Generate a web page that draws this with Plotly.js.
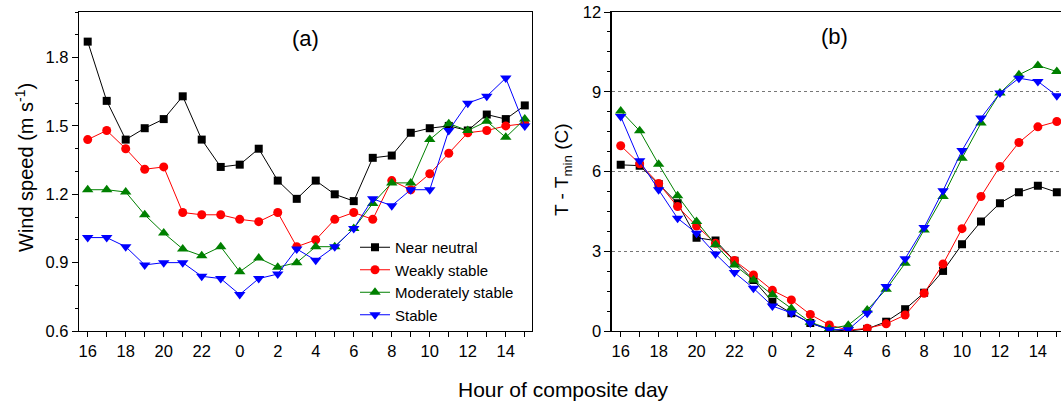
<!DOCTYPE html>
<html>
<head>
<meta charset="utf-8">
<script src="https://cdn.plot.ly/plotly-3.0.1.min.js"></script>
<style>html,body{margin:0;padding:0;background:#fff;}#chart{width:1061px;height:402px;}</style>
</head>
<body>
<div id="chart"></div>
<script>
// Hours of composite day (x categories)
const hours = [16,17,18,19,20,21,22,23,0,1,2,3,4,5,6,7,8,9,10,11,12,13,14,15];
const seriesNames = ["Near neutral","Weakly stable","Moderately stable","Stable"];

// Panel (a): wind speed (m s^-1)
const windNearNeutral = [1.87,1.61,1.44,1.49,1.53,1.63,1.44,1.32,1.33,1.40,1.26,1.18,1.26,1.20,1.17,1.36,1.37,1.47,1.49,1.50,1.48,1.55,1.53,1.59];
const windWeakly      = [1.44,1.48,1.40,1.31,1.32,1.12,1.11,1.11,1.09,1.08,1.12,0.97,1.00,1.09,1.12,1.09,1.26,1.22,1.29,1.38,1.47,1.48,1.50,1.51];
const windModerately  = [1.22,1.22,1.21,1.11,1.03,0.96,0.93,0.97,0.86,0.92,0.88,0.90,0.97,0.97,1.05,1.16,1.25,1.25,1.44,1.51,1.48,1.52,1.45,1.53];
const windStable      = [1.01,1.01,0.97,0.89,0.90,0.90,0.84,0.83,0.76,0.83,0.85,0.96,0.91,0.97,1.05,1.18,1.15,1.22,1.22,1.48,1.60,1.63,1.71,1.50];

// Panel (b): T - Tmin (C)
const tNearNeutral = [6.25,6.22,5.53,4.81,3.51,3.40,2.64,1.92,1.10,0.67,0.30,0.05,0.00,0.08,0.35,0.82,1.44,2.26,3.26,4.12,4.81,5.22,5.46,5.22];
const tWeakly      = [6.97,6.29,5.55,4.68,3.95,3.30,2.65,2.11,1.53,1.17,0.62,0.23,0.03,0.10,0.27,0.60,1.42,2.52,3.85,5.06,6.19,7.09,7.68,7.88];
const tModerately  = [8.28,7.53,6.27,5.09,4.12,3.24,2.48,1.92,1.36,0.85,0.33,0.08,0.22,0.79,1.57,2.55,3.80,5.06,6.50,7.82,8.95,9.64,9.99,9.76];
const tStable      = [8.07,6.40,5.31,4.24,3.68,2.90,2.20,1.61,0.94,0.68,0.30,0.05,0.05,0.67,1.67,2.72,3.89,5.28,6.79,8.01,8.95,9.51,9.39,8.85];

const idx = hours.map((h,i)=>i);
const tickText = hours.map((h,i)=> i%2===0 ? String(h) : "");

const colors = ["#000000","#ff0000","#008000","#0000ff"];
const symbols = ["square","circle","triangle-up","triangle-down"];
const sizes = [8,9,10,10];

const windData = [windNearNeutral, windWeakly, windModerately, windStable];
const tData = [tNearNeutral, tWeakly, tModerately, tStable];

const traces = [];
windData.forEach((ys,k)=>{
  traces.push({x: idx, y: ys, xaxis:'x', yaxis:'y', type:'scatter', mode:'lines+markers',
    name: seriesNames[k], line:{color:colors[k], width:1},
    marker:{symbol:symbols[k], size:sizes[k], color:colors[k]}, showlegend:true});
});
tData.forEach((ys,k)=>{
  traces.push({x: idx, y: ys, xaxis:'x2', yaxis:'y2', type:'scatter', mode:'lines+markers',
    name: seriesNames[k], line:{color:colors[k], width:1},
    marker:{symbol:symbols[k], size:sizes[k], color:colors[k]}, showlegend:false});
});

const FONT = "Arial, 'Liberation Sans', sans-serif";
const W = 1061, H = 402;
const px = v => v/W, py = v => 1 - v/H;
const TICKSIZE = 16.5;

const xCommon = {
  tickmode:'array', tickvals: idx, ticktext: tickText,
  ticks:'outside', ticklen:5, tickwidth:1, tickcolor:'#000',
  showline:true, linecolor:'#000', linewidth:1.3, mirror:true,
  showgrid:false, zeroline:false, tickfont:{size:TICKSIZE, color:'#000', family:FONT}
};

const layout = {
  width: W, height: H,
  margin:{l:0,r:0,t:0,b:0},
  paper_bgcolor:'#fff', plot_bgcolor:'#fff',
  font:{family:FONT, color:'#000'},
  showlegend:true,
  xaxis: Object.assign({}, xCommon, {domain:[px(79), px(532)], range:[-0.458, 23.38], anchor:'y'}),
  yaxis: {domain:[py(331), py(12)], range:[0.6, 2.0], anchor:'x',
    tickmode:'linear', tick0:0.6, dtick:0.3, tickformat:'.1f',
    ticks:'outside', ticklen:6, tickwidth:1, tickcolor:'#000',
    minor:{tick0:0.6, dtick:0.1, ticks:'outside', ticklen:3, tickcolor:'#000', showgrid:false},
    showline:true, linecolor:'#000', linewidth:1.3, mirror:true,
    showgrid:false, zeroline:false, tickfont:{size:TICKSIZE, color:'#000', family:FONT}},
  xaxis2: Object.assign({}, xCommon, {domain:[px(611.7), 1], range:[-0.475, 23.22], anchor:'y2'}),
  yaxis2: {domain:[py(331), py(12)], range:[0, 12], anchor:'x2',
    tickmode:'linear', tick0:0, dtick:3,
    ticks:'outside', ticklen:6, tickwidth:1, tickcolor:'#000',
    minor:{tick0:0, dtick:0.75, ticks:'outside', ticklen:3, tickcolor:'#000', showgrid:false},
    showline:true, linecolor:'#000', linewidth:1.3, mirror:false,
    showgrid:true, gridcolor:'#777', griddash:'dot', gridwidth:1,
    zeroline:false, tickfont:{size:TICKSIZE, color:'#000', family:FONT}},
  legend:{x:px(355), y:py(231), xanchor:'left', yanchor:'top', bgcolor:'rgba(0,0,0,0)',
    font:{size:15, color:'#000', family:FONT}, tracegroupgap:0},
  annotations:[
    {text:'(a)', xref:'paper', yref:'paper', x:px(305), y:py(38), xanchor:'center', yanchor:'middle', showarrow:false, font:{size:22, family:FONT, color:'#000'}},
    {text:'(b)', xref:'paper', yref:'paper', x:px(834), y:py(37), xanchor:'center', yanchor:'middle', showarrow:false, font:{size:22, family:FONT, color:'#000'}},
    {text:'Wind speed (m s<sup>-1</sup>)', xref:'paper', yref:'paper', x:px(24), y:py(168), xanchor:'center', yanchor:'middle', textangle:-90, showarrow:false, font:{size:20, family:FONT, color:'#000'}},
    {text:'T - T<sub>min</sub> (C)', xref:'paper', yref:'paper', x:px(563), y:py(170), xanchor:'center', yanchor:'middle', textangle:-90, showarrow:false, font:{size:19, family:FONT, color:'#000'}},
    {text:'Hour of composite day', xref:'paper', yref:'paper', x:px(563), y:py(389), xanchor:'center', yanchor:'middle', showarrow:false, font:{size:21, family:FONT, color:'#000'}}
  ]
};

Plotly.newPlot('chart', traces, layout, {displayModeBar:false, staticPlot:true});
</script>
</body>
</html>
